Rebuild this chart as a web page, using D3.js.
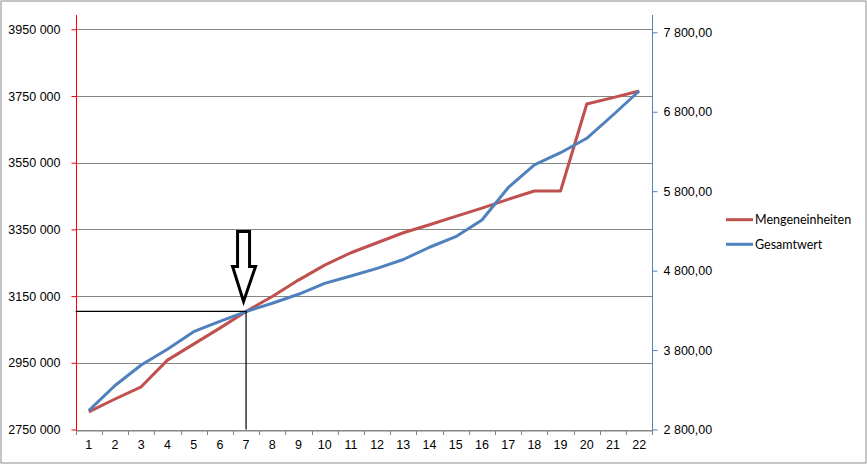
<!DOCTYPE html>
<html><head><meta charset="utf-8">
<script src="https://cdn.jsdelivr.net/npm/d3@7/dist/d3.min.js"></script>
<style>
body{margin:0;background:#fff;}
svg{display:block;font-family:Lato,"Open Sans",sans-serif;}
</style></head>
<body>
<svg id="c" width="867" height="465"></svg>
<script>
const categories = ["1","2","3","4","5","6","7","8","9","10","11","12","13","14","15","16","17","18","19","20","21","22"];
const mengeneinheiten = [2803000,2841500,2878000,2958000,3006000,3054000,3104000,3149000,3198000,3243000,3280000,3310000,3340000,3364000,3389000,3414000,3440000,3465000,3465000,3726000,3745000,3765000];
const gesamtwert = [3037,3354,3612,3810,4031,4160,4285,4389,4502,4640,4732,4829,4940,5094,5227,5437,5844,6130,6284,6466,6759,7061];
const leftTicks = [2750000,2950000,3150000,3350000,3550000,3750000,3950000];
const leftTickLabels = ["2750 000","2950 000","3150 000","3350 000","3550 000","3750 000","3950 000"];
const rightTicks = [2800,3800,4800,5800,6800,7800];
const rightTickLabels = ["2 800,00","3 800,00","4 800,00","5 800,00","6 800,00","7 800,00"];
const seriesNames = ["Mengeneinheiten","Gesamtwert"];
const seriesColors = ["#c0504d","#4f81bd"];
const markerCategory = "7";

const svg = d3.select("#c");
const L = 75.7, R = 652.3, B = 429.5, T = 15;

svg.append("rect").attr("x",1).attr("y",1).attr("width",865).attr("height",462)
  .attr("fill","#fff").attr("stroke","#8c8c8c").attr("stroke-width",1);

const x = d3.scaleBand().domain(categories).range([L,R]).padding(0);
const yL = d3.scaleLinear().domain([2750000,3950000]).range([B,29.3]);
const yR = d3.scaleLinear().domain([2800,7800]).range([B,32.3]);
const cx = c => x(c) + x.bandwidth()/2;

// grid
svg.append("g").selectAll("line").data(leftTicks).join("line")
  .attr("x1",L).attr("x2",R).attr("y1",d=>Math.round(yL(d))+0.5).attr("y2",d=>Math.round(yL(d))+0.5)
  .attr("stroke","#868686").attr("stroke-width",1);

// bottom axis
const gx = svg.append("g").attr("transform",`translate(0,${Math.round(B)+0.5})`)
  .call(d3.axisBottom(x).tickSize(0).tickSizeOuter(0));
gx.select(".domain").attr("stroke","#868686");
gx.selectAll(".tick text").attr("font-size",12.5).attr("fill","#000").attr("dy","1.2em");
svg.append("g").selectAll("line").data(categories.concat(["end"])).join("line")
  .attr("x1",(d,i)=>Math.round(L + i*x.bandwidth())+0.5).attr("x2",(d,i)=>Math.round(L + i*x.bandwidth())+0.5)
  .attr("y1",Math.round(B)).attr("y2",Math.round(B)+5).attr("stroke","#868686");

// left axis
const gl = svg.append("g").attr("transform",`translate(${Math.round(L)+0.5},0)`)
  .call(d3.axisLeft(yL).tickValues(leftTicks).tickFormat((d,i)=>leftTickLabels[i]).tickSize(5).tickSizeOuter(0).tickPadding(11));
gl.select(".domain").remove();
gl.selectAll(".tick line").attr("stroke","#ff0000");
gl.selectAll(".tick text").attr("font-size",12.5).attr("fill","#000");
svg.append("line").attr("x1",Math.round(L)+0.5).attr("x2",Math.round(L)+0.5).attr("y1",T).attr("y2",B+0.5)
  .attr("stroke","#ff0000");

// right axis
const gr = svg.append("g").attr("transform",`translate(${Math.round(R)+0.5},0)`)
  .call(d3.axisRight(yR).tickValues(rightTicks).tickFormat((d,i)=>rightTickLabels[i]).tickSize(5).tickSizeOuter(0).tickPadding(6));
gr.select(".domain").remove();
gr.selectAll(".tick line").attr("stroke","#4f81bd");
gr.selectAll(".tick text").attr("font-size",12.5).attr("fill","#000");
svg.append("line").attr("x1",Math.round(R)+0.5).attr("x2",Math.round(R)+0.5).attr("y1",T).attr("y2",B+0.5)
  .attr("stroke","#4f81bd");

// series
const lineL = d3.line().x((d,i)=>cx(categories[i])).y(d=>yL(d));
const lineR = d3.line().x((d,i)=>cx(categories[i])).y(d=>yR(d));
svg.append("path").attr("d",lineL(mengeneinheiten)).attr("fill","none")
  .attr("stroke",seriesColors[0]).attr("stroke-width",3).attr("stroke-linejoin","round");
svg.append("path").attr("d",lineR(gesamtwert)).attr("fill","none")
  .attr("stroke",seriesColors[1]).attr("stroke-width",3).attr("stroke-linejoin","round");

// annotation
const mi = categories.indexOf(markerCategory);
const mx = cx(markerCategory), my = yL(mengeneinheiten[mi]);
svg.append("path").attr("d",`M${L},${my}H${mx}V${B}`).attr("fill","none").attr("stroke","#000").attr("stroke-width",1.2);
const ax = mx - 2.5, tip = my - 10;
svg.append("path")
  .attr("d",`M${ax-6},${tip-70}H${ax+6}V${tip-35}H${ax+12}L${ax},${tip}L${ax-11},${tip-35}H${ax-6}Z`)
  .attr("fill","#fff").attr("stroke","#000").attr("stroke-width",3).attr("stroke-linejoin","miter");

// legend
const lg = svg.append("g");
seriesNames.forEach((n,i)=>{
  const yy = 219.7 + i*24.6;
  lg.append("line").attr("x1",726).attr("x2",753).attr("y1",yy).attr("y2",yy)
    .attr("stroke",seriesColors[i]).attr("stroke-width",3);
  lg.append("text").attr("x",755).attr("y",yy+4.5).attr("font-size",12.5).attr("fill","#000").text(n);
});
</script>
</body></html>
